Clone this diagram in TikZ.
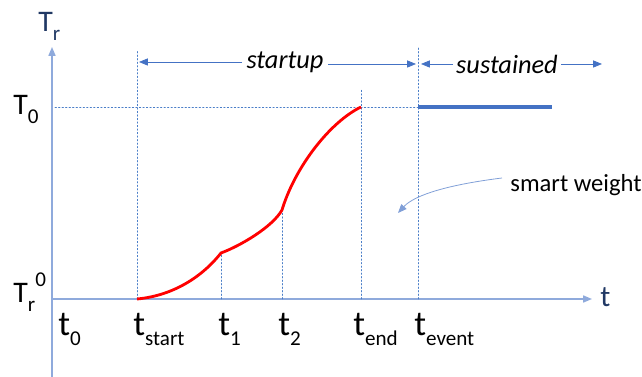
\documentclass[tikz,border=0pt]{standalone}
\usepackage{fontspec}
\setmainfont{Carlito}
\usepackage{tkz-euclide}
\usetikzlibrary{arrows.meta}

\definecolor{axisblue}{HTML}{8FAADC}
\definecolor{arrblue}{HTML}{4472C4}
\definecolor{guideblue}{HTML}{4A7EC8}
\definecolor{navy}{HTML}{203864}

\newcommand{\lowsub}[1]{\raisebox{-0.28em}{\fontsize{12}{12}\selectfont #1}}
\newcommand{\highsup}[1]{\raisebox{0.55em}{\fontsize{12}{12}\selectfont #1}}

\tikzset{
  axisline/.style={draw=axisblue, line width=0.8pt, -{Triangle[length=5pt,width=4pt]}},
  guide/.style={draw=guideblue, line width=0.4pt, dash pattern=on 0.8pt off 1.2pt},
  spanarrow/.style={draw=arrblue, line width=0.45pt, -{Triangle[length=5pt,width=4pt]}},
  tlabel/.style={inner sep=0pt, anchor=base west, font=\fontsize{20}{22}\selectfont},
  Tlabel/.style={inner sep=0pt, anchor=base west, font=\fontsize{17}{20}\selectfont},
}

\begin{document}
\begin{tikzpicture}
    \useasboundingbox (0,0) rectangle (12.84,7.54);
    \tkzDefPoints{1.04/1.56/O, 1.04/6.60/Y, 1.04/0/B, 11.84/1.56/X}
    \tkzDefPoints{2.74/1.56/S, 2.74/6.54/Stop, 4.42/1.56/A, 4.42/2.48/P,
      5.64/1.56/C, 5.64/3.34/Q, 7.22/1.56/E, 7.22/5.40/R, 7.22/5.74/Etop,
      8.36/1.56/V, 8.36/6.58/Vtop, 8.36/5.40/W, 1.10/5.40/H, 11.04/5.40/K}
    % axes
    \draw[axisline] (B) -- (Y);
    \draw[axisline] (O) -- (X);
    % guide lines
    \tkzDrawSegments[guide](S,Stop E,Etop V,Vtop A,P C,Q H,W)
    % the ramp
    \draw[red, line width=1.6pt] (S) .. controls (3.4,1.62) and (4.0,1.95) .. (P)
      .. controls (4.8,2.62) and (5.45,3.0) .. (Q)
      .. controls (5.9,4.2) and (6.6,5.1) .. (R);
    \draw[arrblue, line width=2pt] (W) -- (K);
    % spans
    \node[font=\fontsize{15}{18}\selectfont\itshape, inner sep=0pt] (su) at (5.70,6.30) {startup};
    \node[font=\fontsize{15}{18}\selectfont\itshape, inner sep=0pt] (sd) at (10.14,6.26) {sustained};
    \coordinate (su1) at (4.84,6.30);
    \coordinate (su2) at (2.78,6.30);
    \coordinate (su3) at (6.56,6.26);
    \coordinate (su4) at (8.32,6.26);
    \coordinate (sd1) at (9.06,6.26);
    \coordinate (sd2) at (8.42,6.26);
    \coordinate (sd3) at (11.22,6.26);
    \coordinate (sd4) at (12.04,6.26);
    \draw[spanarrow] (su1) -- (su2);
    \draw[spanarrow] (su3) -- (su4);
    \draw[spanarrow] (sd1) -- (sd2);
    \draw[spanarrow] (sd3) -- (sd4);
    % smart weight
    \node[font=\fontsize{14}{17}\selectfont, inner sep=0pt] (sw) at (11.52,3.84) {smart weight};
    \coordinate (swa) at (10.04,3.98);
    \coordinate (swb) at (7.96,3.28);
    \draw[spanarrow, draw=axisblue!80!arrblue] (swa) .. controls (9.0,3.85) and (8.3,3.65) .. (swb);
    % labels
    \node[Tlabel, text=navy] (lTr) at (0.76,6.90) {T\lowsub{r}};
    \node[Tlabel] (lT0) at (0.26,5.24) {T\lowsub{0}};
    \node[Tlabel] (lTr0) at (0.26,1.48) {T\lowsub{r}\highsup{0}};
    \node[Tlabel, text=navy] (lt) at (12.0,1.40) {t};
    \node[tlabel] (l0) at (1.16,0.82) {t\lowsub{0}};
    \node[tlabel] (ls) at (2.66,0.82) {t\lowsub{start}};
    \node[tlabel] (l1) at (4.36,0.82) {t\lowsub{1}};
    \node[tlabel] (l2) at (5.56,0.82) {t\lowsub{2}};
    \node[tlabel] (le) at (7.06,0.82) {t\lowsub{end}};
    \node[tlabel] (lv) at (8.28,0.82) {t\lowsub{event}};
\end{tikzpicture}
\end{document}
